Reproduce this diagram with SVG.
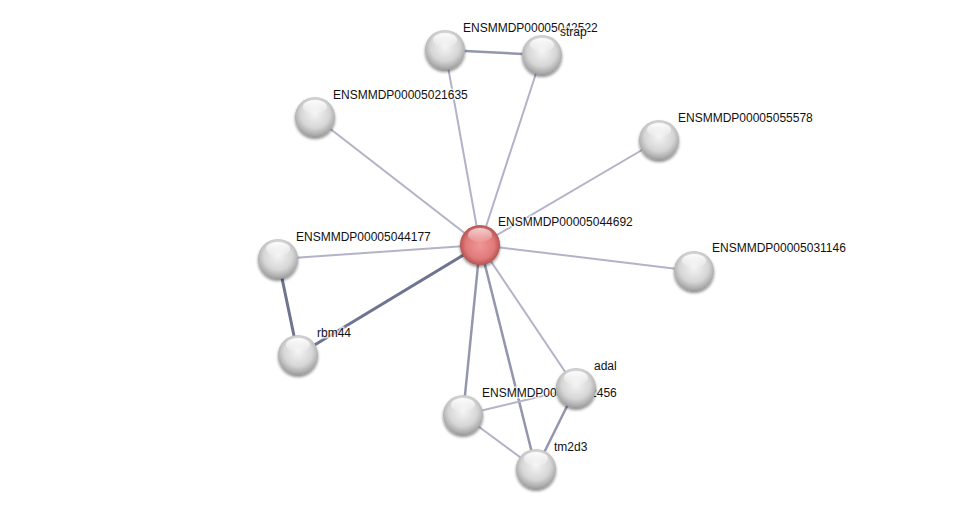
<svg xmlns="http://www.w3.org/2000/svg" width="976" height="514" viewBox="0 0 976 514">
<defs>
<radialGradient id="gw" cx="0.5" cy="0.42" r="0.6">
<stop offset="0" stop-color="#f4f4f4"/>
<stop offset="0.6" stop-color="#d6d6d6"/>
<stop offset="0.9" stop-color="#a8a8a8"/>
<stop offset="1" stop-color="#8c8c8c"/>
</radialGradient>
<radialGradient id="gr" cx="0.5" cy="0.5" r="0.55">
<stop offset="0" stop-color="#f29696"/>
<stop offset="0.65" stop-color="#e07a7a"/>
<stop offset="0.9" stop-color="#b85454"/>
<stop offset="1" stop-color="#8e3a3a"/>
</radialGradient>
<linearGradient id="hl" x1="0" y1="0" x2="0" y2="1">
<stop offset="0" stop-color="#fff" stop-opacity="0.95"/>
<stop offset="1" stop-color="#fff" stop-opacity="0.1"/>
</linearGradient>
<filter id="sh" x="-30%" y="-30%" width="160%" height="170%">
<feGaussianBlur in="SourceAlpha" stdDeviation="1.5"/>
<feOffset dy="2" result="b"/>
<feComponentTransfer><feFuncA type="linear" slope="0.45"/></feComponentTransfer>
<feMerge><feMergeNode/><feMergeNode in="SourceGraphic"/></feMerge>
</filter>
<g id="ball"><circle r="20" fill="url(#gw)" filter="url(#sh)"/><ellipse cx="0" cy="-10" rx="12" ry="7" fill="url(#hl)"/></g>
<g id="rball"><circle r="20" fill="url(#gr)" filter="url(#sh)"/><ellipse cx="0" cy="-10" rx="12" ry="7" fill="url(#hl)" opacity="0.7"/></g>
</defs>
<style>
.e{stroke:#b4b2c8;stroke-width:2;fill:none;stroke-linecap:round}
.m{stroke:#9496ae;stroke-width:2.5}
.d{stroke:#6f7490;stroke-width:3}
text{font-family:"Liberation Sans",Arial,sans-serif;font-size:12px;fill:#111;paint-order:stroke;stroke:#fff;stroke-opacity:0.7;stroke-width:3px}
</style>
<rect width="976" height="514" fill="#fff"/>
<g id="edges">
<line class="e" x1="480" y1="245" x2="445" y2="50"/>
<line class="e" x1="480" y1="245" x2="542" y2="55"/>
<line class="e" x1="480" y1="245" x2="315" y2="117"/>
<line class="e" x1="480" y1="245" x2="659" y2="140"/>
<line class="e" x1="480" y1="245" x2="694" y2="271"/>
<line class="e" x1="480" y1="245" x2="278" y2="259"/>
<line class="e d" x1="480" y1="245" x2="298" y2="355"/>
<line class="e" x1="480" y1="245" x2="576" y2="388"/>
<line class="e m" x1="480" y1="245" x2="463" y2="415"/>
<line class="e m" x1="480" y1="245" x2="536" y2="469"/>
<line class="e m" x1="445" y1="50" x2="542" y2="55"/>
<line class="e d" x1="278" y1="259" x2="298" y2="355"/>
<line class="e" x1="463" y1="415" x2="576" y2="388"/>
<line class="e" x1="463" y1="415" x2="536" y2="469"/>
<line class="e m" x1="576" y1="388" x2="536" y2="469"/>
</g>
<g id="n42522"><use href="#ball" x="445" y="50"/><text x="463" y="32">ENSMMDP00005042522</text></g>
<g id="strap"><use href="#ball" x="542" y="55"/><text x="560" y="36">strap</text></g>
<g id="n21635"><use href="#ball" x="315" y="117"/><text x="333" y="99">ENSMMDP00005021635</text></g>
<g id="n55578"><use href="#ball" x="659" y="140"/><text x="678" y="122">ENSMMDP00005055578</text></g>
<g id="n44692"><use href="#rball" x="480" y="245"/><text x="498" y="226">ENSMMDP00005044692</text></g>
<g id="n31146"><use href="#ball" x="694" y="271"/><text x="712" y="252">ENSMMDP00005031146</text></g>
<g id="n44177"><use href="#ball" x="278" y="259"/><text x="296" y="241">ENSMMDP00005044177</text></g>
<g id="rbm44"><use href="#ball" x="298" y="355"/><text x="317" y="337">rbm44</text></g>
<g id="n456"><use href="#ball" x="463" y="415"/><text x="482" y="397">ENSMMDP00005012456</text></g>
<g id="adal"><use href="#ball" x="576" y="388"/><text x="594" y="370">adal</text></g>
<g id="tm2d3"><use href="#ball" x="536" y="469"/><text x="554" y="451">tm2d3</text></g>
</svg>
